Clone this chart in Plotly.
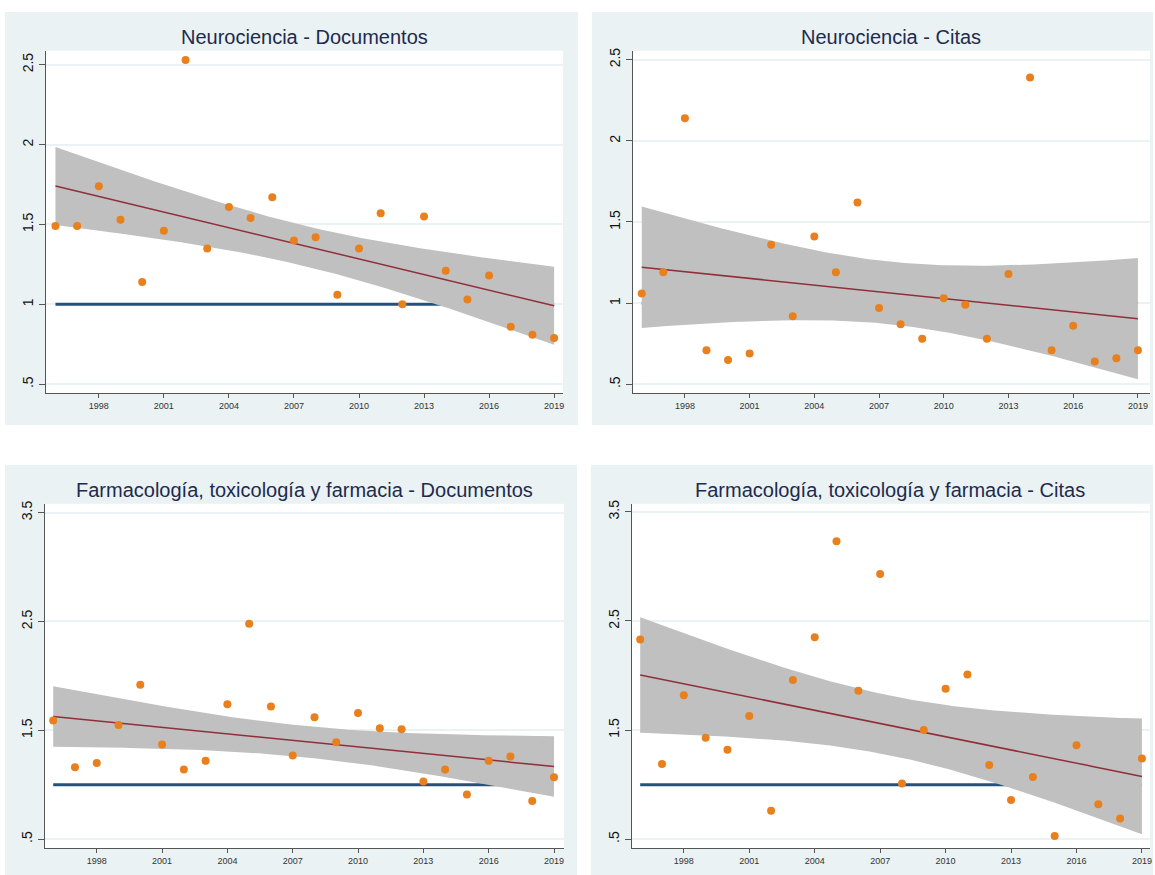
import numpy as np
import plotly.graph_objects as go

years = list(range(1996, 2020))

neuro_docs = [1.49, 1.49, 1.74, 1.53, 1.14, 1.46, 2.53, 1.35, 1.61, 1.54, 1.67, 1.40,
              1.42, 1.06, 1.35, 1.57, 1.00, 1.55, 1.21, 1.03, 1.18, 0.86, 0.81, 0.79]
neuro_citas = [1.06, 1.19, 2.14, 0.71, 0.65, 0.69, 1.36, 0.92, 1.41, 1.19, 1.62, 0.97,
               0.87, 0.78, 1.03, 0.99, 0.78, 1.18, 2.39, 0.71, 0.86, 0.64, 0.66, 0.71]
farma_docs = [1.59, 1.16, 1.20, 1.55, 1.92, 1.37, 1.14, 1.22, 1.74, 2.48, 1.72, 1.27,
              1.62, 1.39, 1.66, 1.52, 1.51, 1.03, 1.14, 0.91, 1.22, 1.26, 0.85, 1.07]
farma_citas = [2.33, 1.19, 1.82, 1.43, 1.32, 1.63, 0.76, 1.96, 2.35, 3.23, 1.86, 2.93,
               1.01, 1.50, 1.88, 2.01, 1.18, 0.86, 1.07, 0.53, 1.36, 0.82, 0.69, 1.24]

titles = ["Neurociencia - Documentos", "Neurociencia - Citas",
          "Farmacología, toxicología y farmacia - Documentos",
          "Farmacología, toxicología y farmacia - Citas"]
series = [neuro_docs, neuro_citas, farma_docs, farma_citas]

x_tickvals = [1998, 2001, 2004, 2007, 2010, 2013, 2016, 2019]
y_ticks_top = [0.5, 1, 1.5, 2, 2.5]
y_ticktext_top = [".5", "1", "1.5", "2", "2.5"]
y_ticks_bot = [0.5, 1.5, 2.5, 3.5]
y_ticktext_bot = [".5", "1.5", "2.5", "3.5"]
reference_value = 1.0

W, H = 1155, 875

def px_x(p):
    return p / W

def px_y(p):
    return 1 - p / H

# panel geometry (pixels): background box, plot box, axis ranges
panels = [
    dict(bg=(5, 8, 579, 423), plot=(46, 47, 564, 391), xr=[1995.56, 2019.41], yr=[0.444, 2.587],
         title_xy=(305, 33), yt=(y_ticks_top, y_ticktext_top)),
    dict(bg=(593, 8, 1155, 423), plot=(634, 47, 1152, 391), xr=[1995.59, 2019.56], yr=[0.445, 2.555],
         title_xy=(893, 33), yt=(y_ticks_top, y_ticktext_top)),
    dict(bg=(5, 463, 578, 875), plot=(45, 502, 565, 848), xr=[1995.62, 2019.46], yr=[0.418, 3.582],
         title_xy=(305, 488), yt=(y_ticks_bot, y_ticktext_bot)),
    dict(bg=(592, 463, 1155, 875), plot=(633, 502, 1152, 848), xr=[1995.62, 2019.37], yr=[0.418, 3.575],
         title_xy=(892, 488), yt=(y_ticks_bot, y_ticktext_bot)),
]

fig = go.Figure()
T_CRIT = 2.0739  # t(0.975, df=22)

for i, (vals, p) in enumerate(zip(series, panels)):
    xa = "x" if i == 0 else f"x{i+1}"
    ya = "y" if i == 0 else f"y{i+1}"
    x = np.array(years, dtype=float)
    y = np.array(vals, dtype=float)
    n = len(x)
    b, a = np.polyfit(x, y, 1)
    resid = y - (a + b * x)
    s = np.sqrt(np.sum(resid ** 2) / (n - 2))
    sxx = np.sum((x - x.mean()) ** 2)
    xg = np.linspace(x.min(), x.max(), 120)
    yfit = a + b * xg
    se = s * np.sqrt(1 / n + (xg - x.mean()) ** 2 / sxx)
    upper = yfit + T_CRIT * se
    lower = yfit - T_CRIT * se

    # reference line at 1
    fig.add_trace(go.Scatter(x=[x.min(), x.max()], y=[reference_value, reference_value], mode="lines",
                             line=dict(color="#24517E", width=3), xaxis=xa, yaxis=ya,
                             showlegend=False, hoverinfo="skip"))
    # CI band
    fig.add_trace(go.Scatter(x=np.concatenate([xg, xg[::-1]]), y=np.concatenate([upper, lower[::-1]]),
                             mode="lines", fill="toself", fillcolor="#C0C0C0",
                             line=dict(width=0, color="#C0C0C0"), xaxis=xa, yaxis=ya,
                             showlegend=False, hoverinfo="skip"))
    # fit line
    fig.add_trace(go.Scatter(x=xg, y=yfit, mode="lines", line=dict(color="#902F3A", width=1.5),
                             xaxis=xa, yaxis=ya, showlegend=False, hoverinfo="skip"))
    # points
    fig.add_trace(go.Scatter(x=x, y=y, mode="markers",
                             marker=dict(color="#E8801E", size=8, line=dict(width=0)),
                             xaxis=xa, yaxis=ya, showlegend=False))

    x0, y0, x1, y1 = p["plot"]
    xkey = "xaxis" if i == 0 else f"xaxis{i+1}"
    ykey = "yaxis" if i == 0 else f"yaxis{i+1}"
    fig.layout[xkey] = dict(domain=[px_x(x0), px_x(x1)], range=p["xr"], anchor=ya,
                            tickvals=x_tickvals, ticktext=[str(v) for v in x_tickvals],
                            ticks="outside", ticklen=4, tickcolor="#555", tickwidth=1,
                            showline=True, linecolor="#555", linewidth=1, showgrid=False,
                            zeroline=False, tickfont=dict(family="Liberation Sans", size=9, color="#333"))
    fig.layout[ykey] = dict(domain=[px_y(y1), px_y(y0)], range=p["yr"], anchor=xa,
                            tickvals=p["yt"][0], ticktext=p["yt"][1], tickangle=-90,
                            ticks="outside", ticklen=6, tickcolor="#555", tickwidth=1,
                            showline=True, linecolor="#555", linewidth=1, showgrid=True,
                            gridcolor="#EAF2F3", gridwidth=1.5, zeroline=False,
                            tickfont=dict(family="Liberation Sans", size=14, color="#111"))

    bx0, by0, bx1, by1 = p["bg"]
    fig.add_shape(type="rect", xref="paper", yref="paper", x0=px_x(bx0), x1=px_x(bx1),
                  y0=px_y(by1), y1=px_y(by0), fillcolor="#EAF2F3", line=dict(width=0), layer="below")
    fig.add_shape(type="rect", xref="paper", yref="paper", x0=px_x(x0), x1=px_x(x1),
                  y0=px_y(y1), y1=px_y(y0), fillcolor="white", line=dict(width=0), layer="below")
    tx, ty = p["title_xy"]
    fig.add_annotation(text=titles[i], xref="paper", yref="paper", x=px_x(tx), y=px_y(ty),
                       xanchor="center", yanchor="middle", showarrow=False,
                       font=dict(family="Liberation Sans", size=20, color="#1E2A4E"))

fig.update_layout(width=W, height=H, margin=dict(l=0, r=0, t=0, b=0),
                  paper_bgcolor="white", plot_bgcolor="rgba(0,0,0,0)")

fig.write_html("out.html", config={"displayModeBar": False},
               post_script="document.body.style.margin='0';document.body.style.overflow='hidden';")
